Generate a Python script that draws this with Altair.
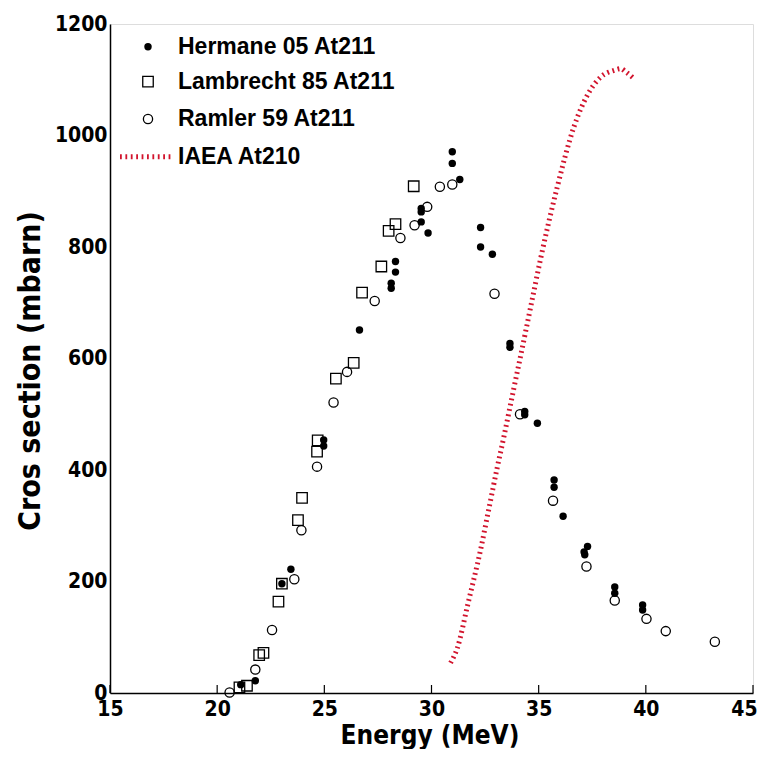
import altair as alt
import pandas as pd

# Hermane 05 At211 (filled markers)
herm_x = [21.10, 21.78, 23.02, 23.44, 24.97, 24.97, 26.64, 28.32, 28.32, 28.12, 28.12,
          29.52, 29.52, 29.52, 29.84, 30.97, 30.97, 31.32, 32.29, 32.29, 32.84, 33.66, 33.66,
          34.35, 34.35, 34.94, 35.72, 35.72, 36.14, 37.28, 37.12, 37.15, 38.55, 38.55, 39.85, 39.85]
herm_y = [15, 22, 196, 222, 454, 443, 651, 774, 755, 735, 726,
          869, 863, 845, 825, 971, 950, 921, 835, 800, 787, 627, 620,
          505, 499, 484, 382, 369, 317, 263, 253, 248, 190, 179, 158, 149]

# Lambrecht 85 At211 (open squares)
lamb_x = [21.04, 21.39, 21.96, 22.16, 22.86, 23.02, 23.77, 23.96, 24.66, 24.69, 25.54,
          26.37, 26.76, 27.66, 28.00, 28.32, 29.17]
lamb_y = [10, 13, 68, 72, 164, 196, 310, 350, 433, 453, 564,
          592, 718, 765, 829, 841, 909]

# Ramler 59 At211 (open circles)
raml_x = [20.58, 21.78, 22.56, 23.60, 23.93, 24.66, 25.43, 26.06, 27.35, 28.55, 29.21,
          29.80, 30.39, 30.97, 32.94, 34.13, 35.67, 37.23, 38.55, 40.03, 40.93, 43.22]
raml_y = [1, 42, 113, 204, 292, 406, 521, 576, 703, 816, 839,
          872, 908, 912, 716, 500, 345, 227, 166, 133, 111, 92]

# IAEA At210 (red dotted curve)
iaea_x = [30.89, 31.20, 31.70, 32.29, 32.70, 33.07, 33.38, 33.61, 33.85, 34.16, 34.63,
          35.09, 35.87, 36.65, 37.28, 37.90, 38.52, 38.83, 39.07, 39.42]
iaea_y = [54, 80, 160, 257, 335, 405, 460, 503, 548, 605, 693,
          779, 908, 1016, 1073, 1105, 1117, 1120, 1114, 1103]

x_ticks = [15, 20, 25, 30, 35, 40, 45]
y_ticks = [0, 200, 400, 600, 800, 1000, 1200]
legend_labels = ["Hermane 05 At211", "Lambrecht 85 At211", "Ramler 59 At211", "IAEA At210"]

W, H = 643, 669
COND = "DejaVu Sans Condensed, DejaVu Sans, sans-serif"
SANS = "Liberation Sans, Arial, sans-serif"
RED = "#d2142d"
DASH = [1.8, 3.6]

xs = alt.Scale(domain=[15, 45], nice=False, zero=False)
ys = alt.Scale(domain=[0, 1200], nice=False)

herm = pd.DataFrame({"x": herm_x, "y": herm_y})
lamb = pd.DataFrame({"x": lamb_x, "y": lamb_y})
raml = pd.DataFrame({"x": raml_x, "y": raml_y})
iaea = pd.DataFrame({"x": iaea_x, "y": iaea_y})

xax = alt.Axis(values=x_ticks, format="d", title="Energy (MeV)", grid=False, tickSize=0,
               labelFont=COND, labelFontSize=21, labelFontWeight="bold", labelColor="black",
               labelPadding=5, labelOffset=alt.condition("datum.value == 45", alt.value(-9), alt.value(0)),
               titleFont=COND, titleFontSize=26, titleFontWeight="bold",
               titleColor="black", titleX=W / 2 - 2, titleY=50, titleBaseline="alphabetic",
               titleAlign="center", domainColor="black", domainWidth=1.5, labelFlush=False)
yax = alt.Axis(values=y_ticks, format="d", title="Cros section (mbarn)", grid=False, tickSize=0,
               labelFont=COND, labelFontSize=21, labelFontWeight="bold", labelColor="black",
               labelPadding=3, titleFont=COND, titleFontSize=30, titleFontWeight="bold",
               titleColor="black", titleX=-80, titleY=H / 2 + 12, titleAngle=270,
               titleBaseline="middle", titleAlign="center",
               domainColor="black", domainWidth=1.5, labelFlush=False)

line = alt.Chart(iaea).mark_line(color=RED, strokeWidth=5, strokeDash=DASH,
                                 interpolate="monotone").encode(
    x=alt.X("x:Q", scale=xs, axis=xax), y=alt.Y("y:Q", scale=ys, axis=yax))

enc = dict(x=alt.X("x:Q", scale=xs), y=alt.Y("y:Q", scale=ys))
p_herm = alt.Chart(herm).mark_point(shape="circle", filled=True, color="black", size=55,
                                    opacity=1).encode(**enc)
p_lamb = alt.Chart(lamb).mark_point(shape="square", filled=False, color="black", size=110,
                                    strokeWidth=1.3, opacity=1).encode(**enc)
p_raml = alt.Chart(raml).mark_point(shape="circle", filled=False, color="black", size=85,
                                    strokeWidth=1.3, opacity=1).encode(**enc)

ticks = alt.Chart(pd.DataFrame({"t": x_ticks})).mark_rule(color="black", strokeWidth=1.2).encode(
    x=alt.X("t:Q", scale=xs), y=alt.value(H - 8), y2=alt.value(H))

# legend
rows = [22.7, 57.7, 95, 132.7]
leg_df = pd.DataFrame({"label": legend_labels, "py": rows})
leg_text = alt.Chart(leg_df).mark_text(align="left", baseline="middle", font=SANS, fontSize=23,
                                        fontWeight="bold", color="black").encode(
    x=alt.value(68), y=alt.Y("py:Q", scale=None), text="label:N")
one = pd.DataFrame({"k": [0]})
leg_h = alt.Chart(one).mark_point(shape="circle", filled=True, color="black", size=55, opacity=1).encode(
    x=alt.value(38), y=alt.value(rows[0]))
leg_l = alt.Chart(one).mark_point(shape="square", filled=False, color="black", size=110,
                                   strokeWidth=1.3, opacity=1).encode(x=alt.value(38), y=alt.value(rows[1]))
leg_r = alt.Chart(one).mark_point(shape="circle", filled=False, color="black", size=85,
                                   strokeWidth=1.3, opacity=1).encode(x=alt.value(38), y=alt.value(rows[2]))
leg_line = alt.Chart(one).mark_rule(color=RED, strokeWidth=5, strokeDash=DASH).encode(
    x=alt.value(10), x2=alt.value(63), y=alt.value(rows[3]))

chart = alt.layer(line, ticks, p_lamb, p_raml, p_herm, leg_text, leg_h, leg_l, leg_r, leg_line).properties(
    width=W, height=H,
    padding={"left": 102, "top": 16, "right": 6, "bottom": 56},
    autosize=alt.AutoSizeParams(type="none"),
).configure_view(stroke=None).configure(background="white")

chart.save("out.html", embed_options={"renderer": "svg", "actions": False})
